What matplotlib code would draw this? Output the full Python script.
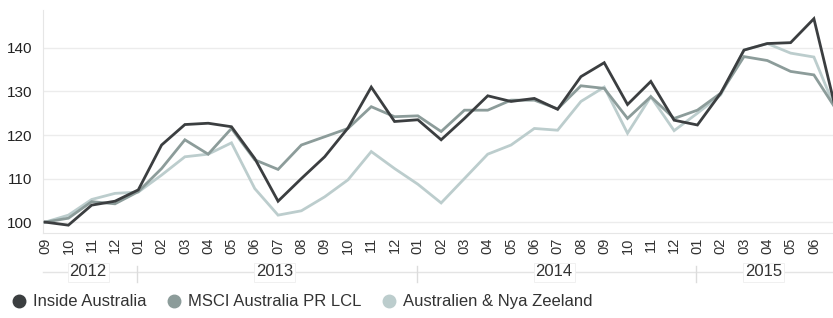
import matplotlib
matplotlib.use("Agg")
import matplotlib.pyplot as plt
from matplotlib.lines import Line2D
from matplotlib import font_manager
import matplotlib.transforms as mtransforms

names = {f.name for f in font_manager.fontManager.ttflist}
narrow = "Liberation Sans Narrow" if "Liberation Sans Narrow" in names else "Liberation Sans"
plt.rcParams['font.family'] = ['Liberation Sans', 'DejaVu Sans']

months = ["09", "10", "11", "12",
          "01", "02", "03", "04", "05", "06", "07", "08", "09", "10", "11", "12",
          "01", "02", "03", "04", "05", "06", "07", "08", "09", "10", "11", "12",
          "01", "02", "03", "04", "05", "06", "07"]
years = ["2012", "2013", "2014", "2015"]
year_counts = [4, 12, 12, 7]

inside_australia = [100, 99.3, 103.9, 104.8, 107.4, 117.7, 122.4, 122.7, 121.9, 114.6,
                    104.8, 110.0, 115.0, 121.6, 131.0, 123.1, 123.5, 118.9, 123.8, 129.0,
                    127.7, 128.4, 125.9, 133.4, 136.6, 127.0, 132.3, 123.4, 122.3, 129.6,
                    139.5, 141.0, 141.2, 146.7, 124.5]
msci_australia = [100, 100.9, 104.7, 104.2, 107.0, 112.3, 118.9, 115.6, 121.5, 114.3,
                  112.1, 117.7, 119.6, 121.5, 126.5, 124.2, 124.4, 120.8, 125.7, 125.7,
                  128.0, 128.0, 126.0, 131.3, 130.7, 123.8, 128.8, 123.8, 125.7, 129.6,
                  138.0, 137.1, 134.6, 133.8, 125.5]
aus_nz = [100, 101.6, 105.2, 106.6, 106.9, 110.8, 115.0, 115.6, 118.2, 107.7,
          101.6, 102.6, 105.8, 109.7, 116.2, 112.3, 108.7, 104.4, 110.0, 115.6,
          117.7, 121.5, 121.1, 127.7, 131.0, 120.4, 128.8, 121.0, 125.0, 129.2,
          139.5, 141.0, 138.8, 137.9, 125.0]

series = [("Inside Australia", inside_australia, "#3b3e40"),
          ("MSCI Australia PR LCL", msci_australia, "#8c9c9a"),
          ("Australien & Nya Zeeland", aus_nz, "#bccdcd")]

W, H = 833, 318
fig = plt.figure(figsize=(W / 100, H / 100), dpi=100)
left_px, right_px, top_px, bot_px = 43, 833, 10, 233
ax = fig.add_axes([left_px / W, 1 - bot_px / H, (right_px - left_px) / W, (bot_px - top_px) / H])

x = list(range(len(months)))
for name, vals, col in series[::-1]:
    ax.plot(x, vals, color=col, lw=2.0, solid_joinstyle='miter', zorder=3)

ax.set_xlim(-0.09, 33.82)
ax.set_ylim(97.5, 148.7)
ax.set_yticks([100, 110, 120, 130, 140])
ax.grid(axis='y', color='#ececec', lw=1.0, zorder=0)
ax.set_xticks(x[:-1])
ax.set_xticklabels(months[:-1], rotation=90, fontsize=10.5, color='#333333')
ax.tick_params(axis='x', length=0, pad=3)
ax.tick_params(axis='y', length=0, pad=8, labelsize=11, labelcolor='#222222')
for s in ['top', 'right']:
    ax.spines[s].set_visible(False)
ax.spines['left'].set_color('#e6e6e6')
ax.spines['bottom'].set_color('#e6e6e6')
ax.spines['bottom'].set_linestyle((0, (1, 1)))

# Year row
trans = mtransforms.blended_transform_factory(ax.transData, ax.transAxes)
yrow = -(272 - bot_px) / (bot_px - top_px)
ax.plot([-0.1, 34], [yrow, yrow], transform=trans, color='#e4e4e4', lw=1, clip_on=False)
start = 0
for yr, cnt in zip(years, year_counts):
    if start > 0:
        ax.plot([start - 0.05, start - 0.05], [yrow + 0.025, yrow - 0.045], transform=trans,
                color='#dcdcdc', lw=1, clip_on=False)
    center = start + (min(start + cnt - 1, 33) - start) / 2 + 0.35
    ax.text(center, yrow, yr, transform=trans, ha='center', va='center', fontsize=12,
            family=narrow, color='#333333',
            bbox=dict(facecolor='white', edgecolor='#eeeeee', pad=1.5, lw=0.6), clip_on=False)
    start += cnt

handles = [Line2D([], [], marker='o', ls='', markersize=9, color=c) for _, _, c in series]
labels = [n for n, _, _ in series]
leg = fig.legend(handles, labels, loc='lower left', bbox_to_anchor=(-0.005, -0.02), ncol=3,
                 frameon=False, handletextpad=0.3, columnspacing=1.2, handlelength=1.0,
                 prop={'family': narrow, 'size': 12})
for t in leg.get_texts():
    t.set_color('#333333')

fig.savefig("out.png", dpi=100)
